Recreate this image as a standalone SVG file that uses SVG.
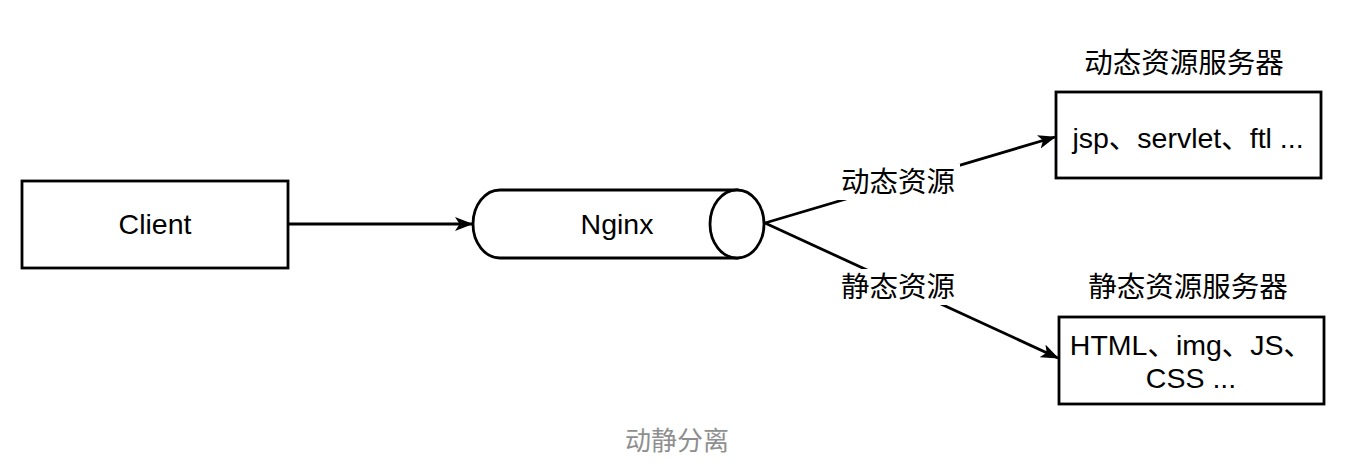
<svg xmlns="http://www.w3.org/2000/svg" width="1365" height="466" viewBox="0 0 1365 466">
<style>
.box{fill:#fff;stroke:#000;stroke-width:2.8}
.edge{fill:none;stroke:#000;stroke-width:2.8}
.t{font-family:"Liberation Sans","Noto Sans CJK SC",sans-serif;font-size:28.5px;fill:#000;text-anchor:middle;dominant-baseline:central}
.lbl{fill:#fff}
.cap{font-family:"Liberation Sans","Noto Sans CJK SC",sans-serif;font-size:26px;fill:#8f8f8f;text-anchor:middle;dominant-baseline:central}
</style>
<defs>
<marker id="arr" viewBox="0 0 18 14" refX="17" refY="7" markerWidth="18" markerHeight="14" markerUnits="userSpaceOnUse" orient="auto">
<path d="M0,0 L18,7 L0,14 L4.5,7 Z" fill="#000"/>
</marker>
</defs>
<rect width="1365" height="466" fill="#fff"/>
<g id="connectors">
<line class="edge" x1="288" y1="224" x2="472" y2="224" marker-end="url(#arr)"/>
<line class="edge" x1="765" y1="223" x2="1055" y2="137" marker-end="url(#arr)"/>
<line class="edge" x1="765" y1="223" x2="1058" y2="358" marker-end="url(#arr)"/>
<rect class="lbl" x="838" y="164" width="122" height="36"/>
<text class="t" x="898" y="182">动态资源</text>
<rect class="lbl" x="838" y="269" width="122" height="36"/>
<text class="t" x="898" y="287">静态资源</text>
</g>
<g id="client">
<rect class="box" x="22" y="181" width="266" height="87"/>
<text class="t" x="155" y="224">Client</text>
</g>
<g id="nginx">
<path class="box" d="M500,190 L737,190 L737,258 L500,258 A27,34 0 0 1 500,190 Z"/>
<ellipse class="box" cx="737" cy="224" rx="27" ry="34"/>
<text class="t" x="617" y="224">Nginx</text>
</g>
<g id="dynamic">
<text class="t" x="1184" y="63">动态资源服务器</text>
<rect class="box" x="1056" y="92" width="265" height="86"/>
<text class="t" x="1188" y="138">jsp、servlet、ftl ...</text>
</g>
<g id="static">
<text class="t" x="1188" y="287">静态资源服务器</text>
<rect class="box" x="1059" y="317" width="265" height="87"/>
<text class="t" x="1191" y="345">HTML、img、JS、</text>
<text class="t" x="1191" y="378">CSS ...</text>
</g>
<text class="cap" x="677" y="441">动静分离</text>
</svg>
